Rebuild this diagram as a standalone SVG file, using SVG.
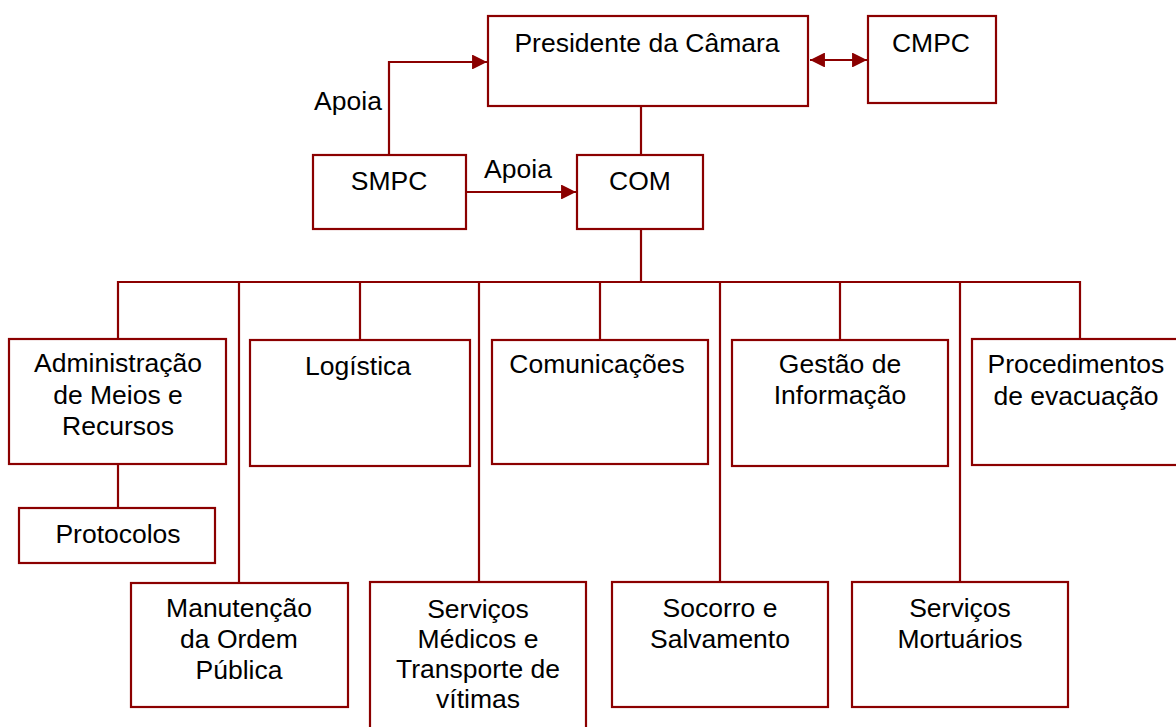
<svg xmlns="http://www.w3.org/2000/svg" width="1176" height="727" viewBox="0 0 1176 727">
<style>
.box{fill:#fff;stroke:#8b0000;stroke-width:2.2}
.ln{fill:none;stroke:#8b0000;stroke-width:2.2}
text{font-family:"Liberation Sans",Arial,sans-serif;font-size:26.5px;fill:#000;text-anchor:middle}
</style>
<defs>
<marker id="ah" viewBox="0 0 10 10" refX="10" refY="5" markerWidth="6.8" markerHeight="6.8" orient="auto-start-reverse" markerUnits="strokeWidth">
<path d="M0,0 L10,5 L0,10 z" fill="#8b0000"/>
</marker>
</defs>
<rect width="1176" height="727" fill="#fff"/>
<g id="connectors">
<path class="ln" d="M389,155 V62 H487" marker-end="url(#ah)"/>
<path class="ln" d="M466,192 H576" marker-end="url(#ah)"/>
<path class="ln" d="M810,60 H867" marker-start="url(#ah)" marker-end="url(#ah)"/>
<path class="ln" d="M641,106 V155"/>
<path class="ln" d="M641,229 V282"/>
<path class="ln" d="M118,340 V282 H1080 V340"/>
<path class="ln" d="M360,282 V340 M600,282 V340 M840,282 V340"/>
<path class="ln" d="M239,282 V583 M479,282 V582 M720,282 V582 M960,282 V582"/>
<path class="ln" d="M118,464 V508"/>
</g>
<g id="presidente"><rect class="box" x="488" y="16" width="320" height="90"/><text x="647" y="52">Presidente da Câmara</text></g>
<g id="cmpc"><rect class="box" x="868" y="16" width="128" height="87"/><text x="931" y="52">CMPC</text></g>
<g id="smpc"><rect class="box" x="313" y="155" width="153" height="74"/><text x="389" y="190">SMPC</text></g>
<g id="com"><rect class="box" x="577" y="155" width="126" height="74"/><text x="640" y="190">COM</text></g>
<g id="label-apoia-1"><text x="348" y="110">Apoia</text></g>
<g id="label-apoia-2"><text x="518" y="178">Apoia</text></g>
<g id="admin"><rect class="box" x="9" y="339" width="217" height="125"/><text x="118" y="372">Administração</text><text x="118" y="404">de Meios e</text><text x="118" y="435">Recursos</text></g>
<g id="protocolos"><rect class="box" x="19" y="508" width="196" height="55"/><text x="118" y="543">Protocolos</text></g>
<g id="logistica"><rect class="box" x="250" y="340" width="220" height="126"/><text x="358" y="375">Logística</text></g>
<g id="comunicacoes"><rect class="box" x="492" y="340" width="216" height="124"/><text x="597" y="373">Comunicações</text></g>
<g id="gestao"><rect class="box" x="732" y="340" width="216" height="126"/><text x="840" y="373">Gestão de</text><text x="840" y="404">Informação</text></g>
<g id="procedimentos"><rect class="box" x="972" y="339" width="210" height="126"/><text x="1076" y="373">Procedimentos</text><text x="1076" y="405">de evacuação</text></g>
<g id="manutencao"><rect class="box" x="131" y="583" width="217" height="124"/><text x="239" y="617">Manutenção</text><text x="239" y="648">da Ordem</text><text x="239" y="679">Pública</text></g>
<g id="servicos-medicos"><rect class="box" x="370" y="582" width="216" height="150"/><text x="478" y="618">Serviços</text><text x="478" y="648">Médicos e</text><text x="478" y="678">Transporte de</text><text x="478" y="708">vítimas</text></g>
<g id="socorro"><rect class="box" x="612" y="582" width="216" height="125"/><text x="720" y="617">Socorro e</text><text x="720" y="648">Salvamento</text></g>
<g id="mortuarios"><rect class="box" x="852" y="582" width="216" height="125"/><text x="960" y="617">Serviços</text><text x="960" y="648">Mortuários</text></g>
</svg>
